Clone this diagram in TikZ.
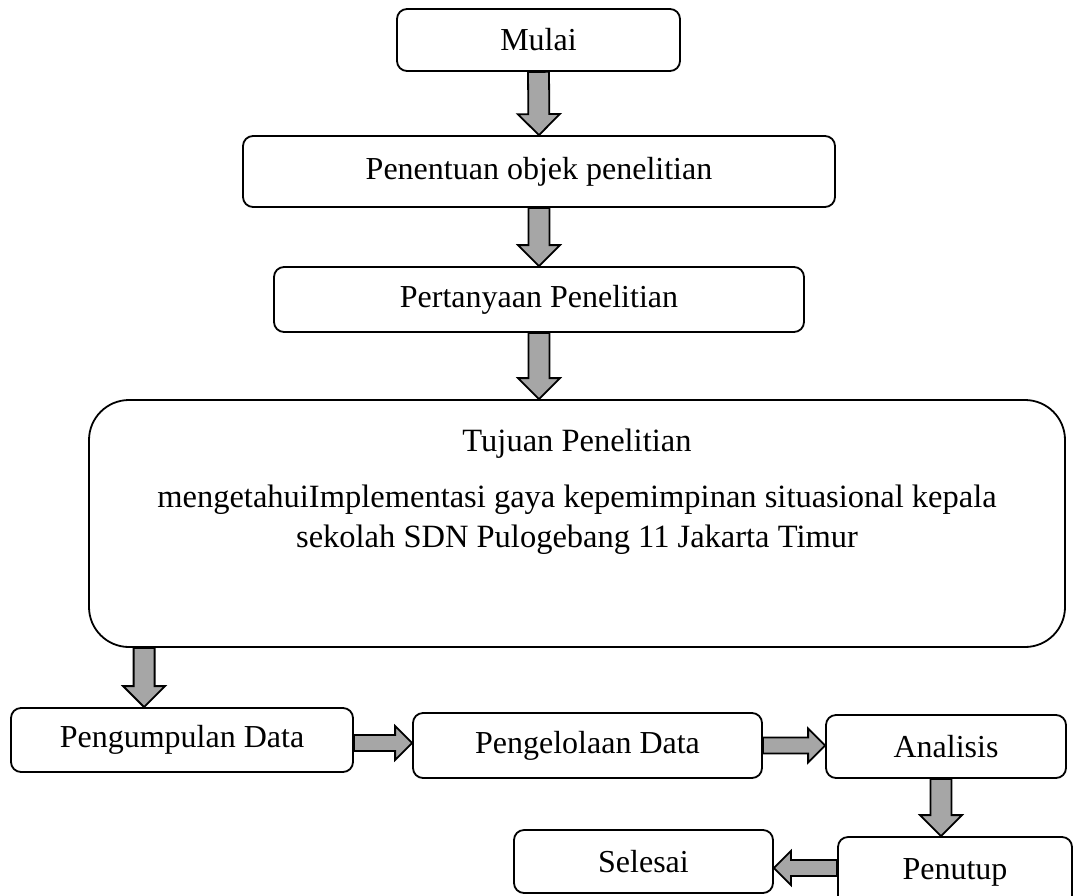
\documentclass[tikz,border=0pt]{standalone}
\usepackage{fontspec}
\setmainfont{Liberation Serif}
\usetikzlibrary{calc}
\definecolor{arrowgray}{HTML}{A6A6A6}
\tikzset{
  box/.style={draw=black, line width=1.8pt, rounded corners=10pt, inner sep=0pt,
    font=\fontsize{32}{40}\selectfont},
  bigbox/.style={draw=black, line width=1.8pt, rounded corners=40pt, inner sep=0pt},
  txt/.style={inner sep=0pt, align=center, font=\fontsize{32.5}{40}\selectfont},
  blockarrow/.style n args={3}{draw=black, line width=1.8pt, fill=arrowgray, line join=miter,
    to path={let \p1=(\tikztostart), \p2=(\tikztotarget),
      \n1={atan2(\y2-\y1,\x2-\x1)}, \n3={veclen(\x2-\x1,\y2-\y1)-#3} in
      ($(\p1)+(\n1+90:#1pt)$) -- ($(\p1)+(\n1:\n3)+(\n1+90:#1pt)$)
      -- ($(\p1)+(\n1:\n3)+(\n1+90:#2pt)$) -- (\p2)
      -- ($(\p1)+(\n1:\n3)+(\n1-90:#2pt)$) -- ($(\p1)+(\n1:\n3)+(\n1-90:#1pt)$)
      -- ($(\p1)+(\n1-90:#1pt)$) -- cycle}},
  varrow/.style={blockarrow={10.5}{21}{21}},
  harrow/.style={blockarrow={8}{17}{17}},
}
\begin{document}
\begin{tikzpicture}[x=1pt,y=-1pt]
\useasboundingbox (0,0) rectangle (1073,895);
\node[box, minimum width=283pt, minimum height=62pt] (mulai) at (538.5,40) {Mulai};
\node[box, minimum width=592pt, minimum height=71pt] (penentuan) at (539,171.5) {Penentuan objek penelitian};
\node[box, minimum width=530pt, minimum height=65pt] (pertanyaan) at (539,299.5) {Pertanyaan Penelitian};
\node[bigbox, minimum width=976pt, minimum height=247pt] (tujuan) at (577,523.5) {};
\node[txt] (tujuantxt) at (577,492) {Tujuan Penelitian\\[16pt]mengetahuiImplementasi gaya kepemimpinan situasional kepala\\sekolah SDN Pulogebang 11 Jakarta Timur};
\node[box, minimum width=342pt, minimum height=64pt] (pengumpulan) at (182,740) {Pengumpulan Data};
\node[box, minimum width=349pt, minimum height=65pt] (pengelolaan) at (587.5,745.5) {Pengelolaan Data};
\node[box, minimum width=240pt, minimum height=63pt] (analisis) at (946,746.5) {Analisis};
\node[box, minimum width=234pt, minimum height=70pt] (penutup) at (955,872) {Penutup};
\node[box, minimum width=259pt, minimum height=63pt] (selesai) at (643.5,861.5) {Selesai};
\coordinate (a4top) at ([xshift=56pt]tujuan.south west);
\coordinate (a4bot) at (a4top |- pengumpulan.north);
\coordinate (a7top) at ([xshift=-5pt]analisis.south);
\coordinate (a7bot) at (a7top |- penutup.north);
\coordinate (a8start) at ([yshift=4pt]penutup.west);
\coordinate (a8end) at (a8start -| selesai.east);
\coordinate (a5start) at ([yshift=-3pt]pengumpulan.east);
\coordinate (a5end) at (a5start -| pengelolaan.west);
\draw[varrow] (mulai.south) to (penentuan.north);
\draw[varrow] (penentuan.south) to (pertanyaan.north);
\draw[varrow] (pertanyaan.south) to (pertanyaan.south |- tujuan.north);
\draw[varrow] (a4top) to (a4bot);
\draw[harrow] (a5start) to (a5end);
\draw[harrow] (pengelolaan.east) to (pengelolaan.east -| analisis.west);
\draw[varrow] (a7top) to (a7bot);
\draw[harrow] (a8start) to (a8end);
\end{tikzpicture}
\end{document}
